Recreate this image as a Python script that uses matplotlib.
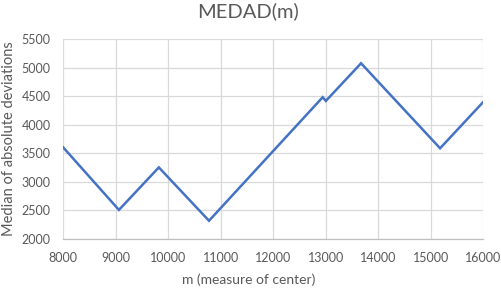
import matplotlib.pyplot as plt

# values
m_vals = [8000, 9060, 9820, 10775, 12940, 13000, 13670, 15175, 16000]
medad = [3605, 2510, 3255, 2320, 4485, 4420, 5080, 3590, 4405]

x_ticks = list(range(8000, 16001, 1000))
y_ticks = list(range(2000, 5501, 500))

plt.rcParams['font.family'] = ['Lato', 'DejaVu Sans']
txt = '#595959'

fig = plt.figure(figsize=(5.02, 2.89), dpi=100)
ax = fig.add_axes([0.126, 0.173, 0.837, 0.691])

ax.plot(m_vals, medad, color='#4472C4', linewidth=1.8, solid_joinstyle='miter')

ax.set_xlim(8000, 16000)
ax.set_ylim(2000, 5500)
ax.set_xticks(x_ticks)
ax.set_yticks(y_ticks)
ax.grid(True, color='#D9D9D9', linewidth=0.9)
ax.set_axisbelow(True)
for s in ['top', 'right', 'left']:
    ax.spines[s].set_visible(False)
ax.spines['bottom'].set_color('#BFBFBF')
ax.spines['bottom'].set_linewidth(0.9)
ax.tick_params(length=0, labelsize=9, colors=txt, pad=9)

fig.text(0.495, 0.962, 'MEDAD(m)', ha='center', va='center', fontsize=14.5, color=txt)
fig.text(0.495, 0.031, 'm (measure of center)', ha='center', va='center', fontsize=10, color=txt)
fig.text(0.018, 0.52, 'Median of absolute deviations', ha='center', va='center',
         rotation=90, fontsize=10.5, color=txt)

fig.savefig('out.png', dpi=100)
